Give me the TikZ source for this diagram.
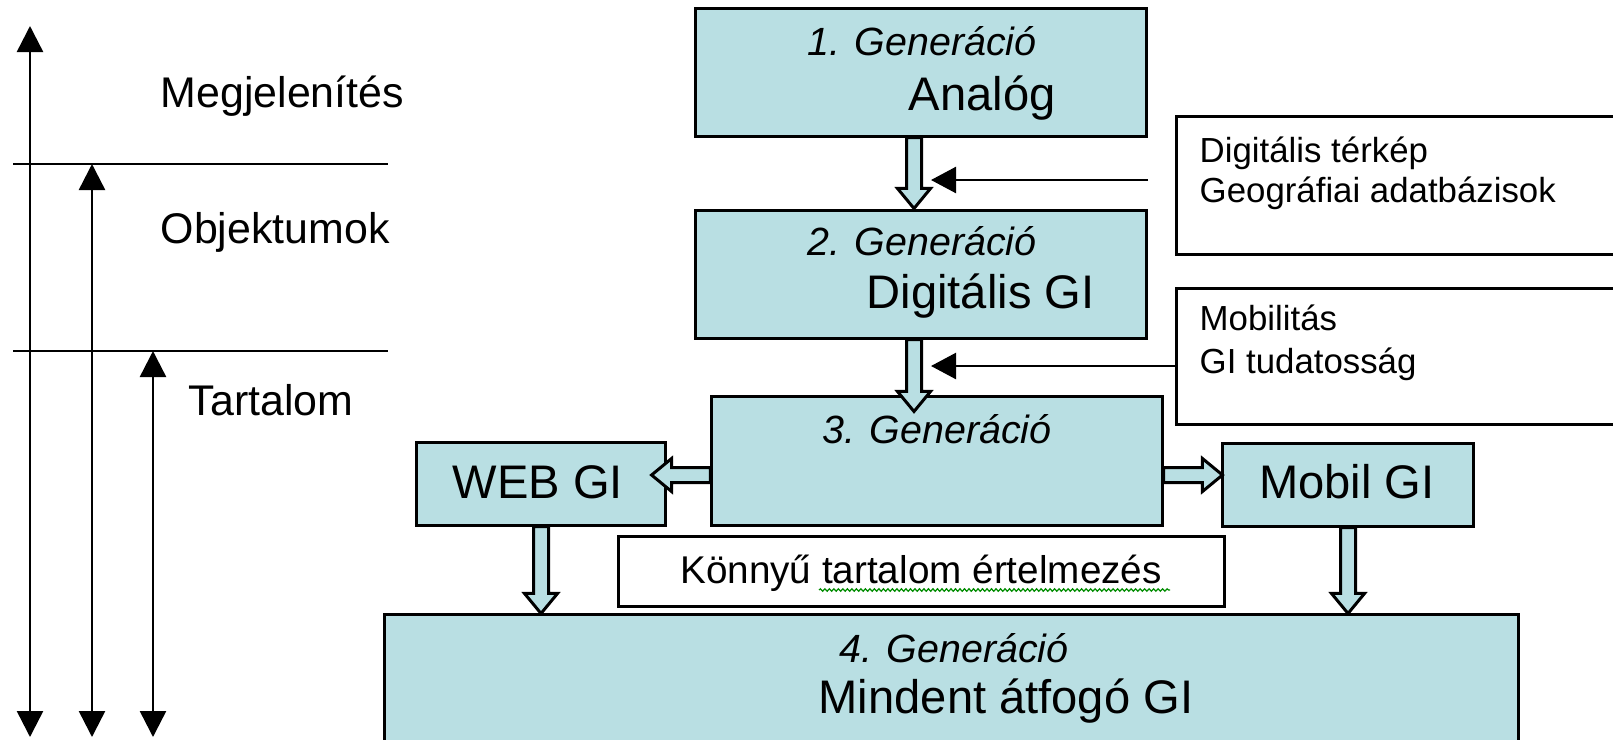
\documentclass[tikz,border=0pt]{standalone}
\usepackage{fontspec}
\setmainfont{Liberation Sans}
\usetikzlibrary{arrows.meta,calc,decorations.pathmorphing}

\definecolor{genfill}{RGB}{185,223,227}

% block arrow sizes: half shaft, half head, head length
\newcommand{\bsh}{0.075cm}
\newcommand{\bhw}{0.165cm}
\newcommand{\bhl}{0.2cm}
% x from the start point, tip height from the end point
\newcommand{\downblock}[2]{%
  \filldraw[blockarr] let \p1=(#1), \p2=(#2) in
    (\x1-\bsh,\y1) -- (\x1-\bsh,\y2+\bhl) -- (\x1-\bhw,\y2+\bhl) -- (\x1,\y2)
    -- (\x1+\bhw,\y2+\bhl) -- (\x1+\bsh,\y2+\bhl) -- (\x1+\bsh,\y1) -- cycle;}
% y from the start point, tip position from the end point
\newcommand{\leftblock}[2]{%
  \filldraw[blockarr] let \p1=(#1), \p2=(#2) in
    (\x1,\y1-\bsh) -- (\x2+\bhl,\y1-\bsh) -- (\x2+\bhl,\y1-\bhw) -- (\x2,\y1)
    -- (\x2+\bhl,\y1+\bhw) -- (\x2+\bhl,\y1+\bsh) -- (\x1,\y1+\bsh) -- cycle;}
\newcommand{\rightblock}[2]{%
  \filldraw[blockarr] let \p1=(#1), \p2=(#2) in
    (\x1,\y1-\bsh) -- (\x2-\bhl,\y1-\bsh) -- (\x2-\bhl,\y1-\bhw) -- (\x2,\y1)
    -- (\x2-\bhl,\y1+\bhw) -- (\x2-\bhl,\y1+\bsh) -- (\x1,\y1+\bsh) -- cycle;}

\begin{document}
\begin{tikzpicture}[
    x=0.01cm, y=-0.01cm,
    genbox/.style={draw, fill=genfill, line width=0.85pt, inner sep=0},
    infobox/.style={draw, fill=white, line width=0.85pt, inner sep=0},
    blockarr/.style={fill=genfill, draw=black, line width=0.85pt, line join=miter},
    axis/.style={line width=0.7pt, {Triangle[length=0.26cm,width=0.26cm]}-{Triangle[length=0.26cm,width=0.26cm]}},
    feed/.style={line width=0.7pt, -{Triangle[length=0.25cm,width=0.26cm]}},
    axtxt/.style={font=\fontsize{12.2}{14}\selectfont, inner sep=0, anchor=base west},
    gentitle/.style={font=\fontsize{11.2}{13}\selectfont\itshape, inner sep=0, anchor=base},
    bigtxt/.style={font=\fontsize{13.4}{16}\selectfont, inner sep=0, anchor=base west},
    infotxt/.style={font=\fontsize{9.9}{12}\selectfont, inner sep=0, anchor=base west},
    spell/.style={draw=green!55!black, line width=0.35pt, decorate,
        decoration={snake, segment length=0.045cm, amplitude=0.012cm}}
]
\useasboundingbox (0,0) rectangle (1613,739);
\clip (0,0) rectangle (1613,739);

% szintek a bal oldalon
\foreach \x/\y/\n in {30/26/1, 92/164/2, 153/351/3} {
    \coordinate (top\n) at (\x,\y);
    \coordinate (bot\n) at (\x,737);
    \draw[axis] (bot\n) -- (top\n);
}
\foreach \y/\n in {164/1, 351/2} {
    \coordinate (sepa\n) at (13,\y);
    \coordinate (sepb\n) at (388,\y);
    \draw[line width=0.7pt] (sepa\n) -- (sepb\n);
}
\node[axtxt] (megj) at (160,107) {Megjelenítés};
\node[axtxt] (obj) at (160,243) {Objektumok};
\node[axtxt] (tart) at (188,415) {Tartalom};

% generációk
\node[genbox, minimum width=4.5cm, minimum height=1.27cm] (gen1) at (921,72.5) {};
\node[genbox, minimum width=4.5cm, minimum height=1.27cm] (gen2) at (921,274.5) {};
\node[genbox, minimum width=4.5cm, minimum height=1.28cm] (gen3) at (937,461) {};
\node[genbox, minimum width=2.48cm, minimum height=0.82cm] (web) at (541,484) {};
\node[genbox, minimum width=2.5cm, minimum height=0.82cm] (mobil) at (1348,485) {};
\node[genbox, minimum width=11.33cm, minimum height=1.45cm] (gen4) at (951.5,687.5) {};
\node[infobox, minimum width=6.05cm, minimum height=0.69cm] (easy) at (921.5,571.5) {};

% külső hatások
\node[infobox, minimum width=4.73cm, minimum height=1.37cm] (infoa) at (1413.5,185.5) {};
\node[infobox, minimum width=4.73cm, minimum height=1.35cm] (infob) at (1413.5,356.5) {};

% nyilak
\downblock{$(gen1.south)+(-7,0)$}{$(gen2.north)+(0,-1)$}
\downblock{$(gen2.south)+(-7,0)$}{$(gen3.north)+(0,16)$}
\leftblock{$(gen3.west)+(0,14)$}{$(web.east)+(-15,0)$}
\rightblock{$(gen3.east)+(0,14)$}{$(mobil.west)+(1,0)$}
\downblock{web.south}{gen4.north}
\downblock{mobil.south}{gen4.north}

\coordinate (srca) at (1148,180);
\coordinate (dsta) at (931,180);
\coordinate (dstb) at (931,366);
\draw[feed] (srca) -- (dsta);
\draw[feed] (infob.west |- dstb) -- (dstb);

% feliratok
\node[gentitle] (t1) at (922,55) {1. Generáció};
\node[bigtxt] (n1) at (908,110) {Analóg};
\node[gentitle] (t2) at (922,255) {2. Generáció};
\node[bigtxt] (n2) at (866,308) {Digitális GI};
\node[gentitle] (t3) at (937,443) {3. Generáció};
\node[bigtxt, anchor=base] (nweb) at (538,498) {WEB GI};
\node[bigtxt, anchor=base] (nmob) at (1347,498) {Mobil GI};
\node[gentitle] (t4) at (954,662) {4. Generáció};
\node[bigtxt] (n4) at (818,713) {Mindent átfogó GI};
\node[font=\fontsize{11}{13}\selectfont, inner sep=0, anchor=base] (neasy) at (921,583) {Könnyű tartalom értelmezés};
\draw[spell] (819,590) -- (1170,590);

\node[infotxt] (ia1) at (1199,162) {Digitális térkép};
\node[infotxt] (ia2) at (1199,202) {Geográfiai adatbázisok};
\node[infotxt] (ib1) at (1199,330) {Mobilitás};
\node[infotxt] (ib2) at (1199,373) {GI tudatosság};
\end{tikzpicture}
\end{document}
